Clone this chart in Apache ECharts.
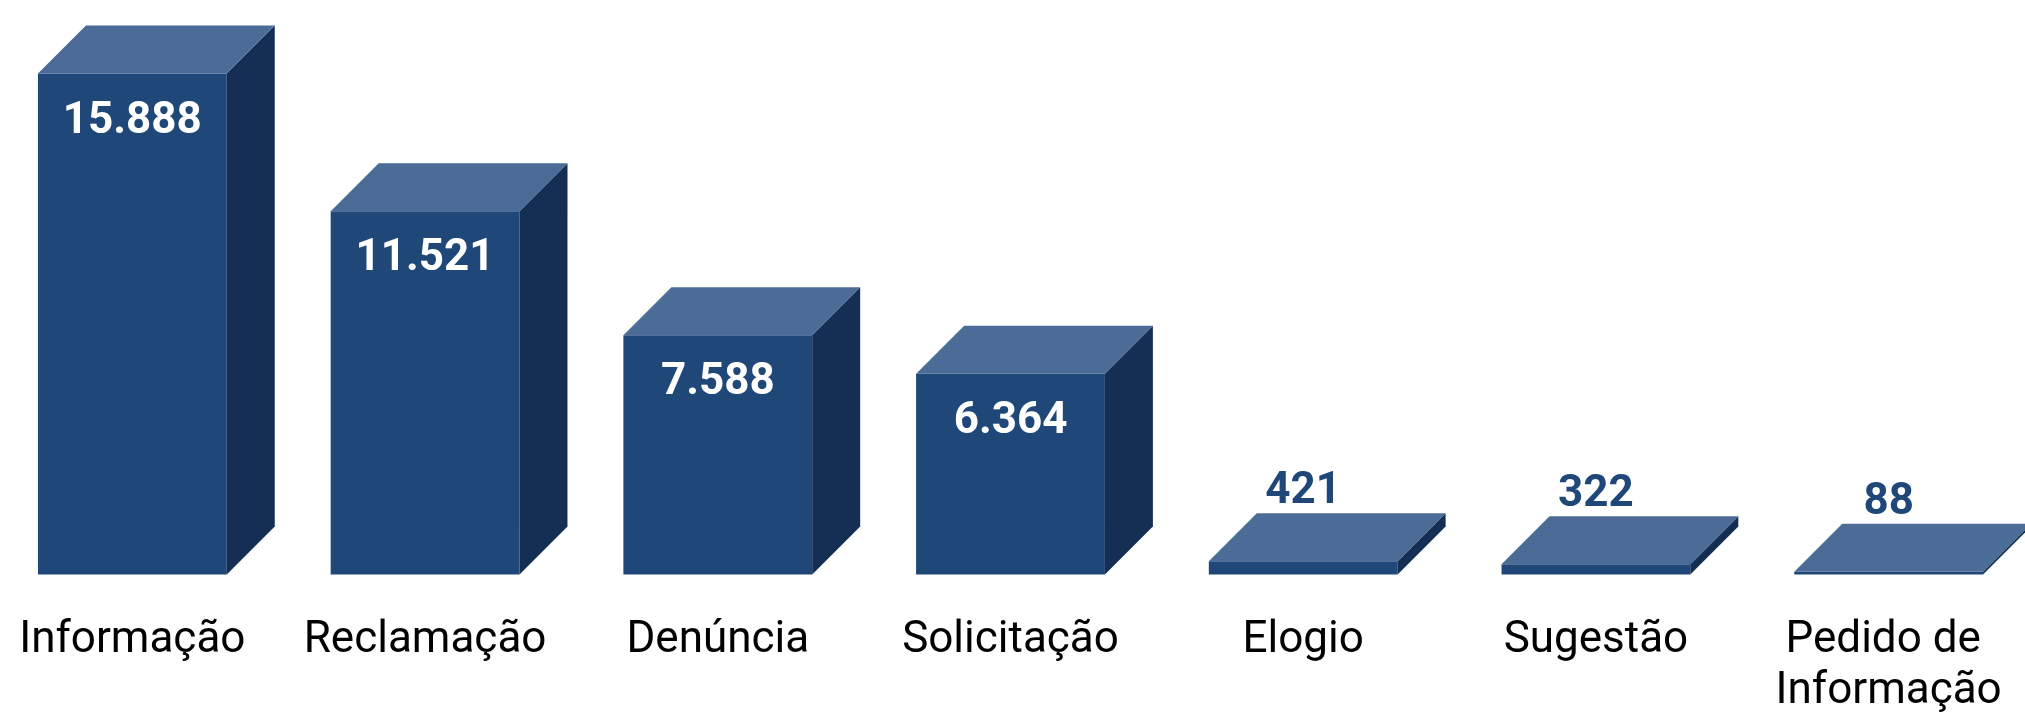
<!DOCTYPE html>
<html>
<head>
<meta charset="utf-8">
<script src="https://cdn.jsdelivr.net/npm/echarts@6/dist/echarts.min.js"></script>
<style>
  html, body { margin: 0; padding: 0; background: #fff; }
  #chart { width: 2025px; height: 717px; }
</style>
</head>
<body>
<div id="chart"></div>
<script>
const categories = ['Informação', 'Reclamação', 'Denúncia', 'Solicitação', 'Elogio', 'Sugestão', 'Pedido de Informação'];
const values = [15888, 11521, 7588, 6364, 421, 322, 88];

const FRONT = '#1f4778';
const SIDE = '#152e53';
const TOP = '#4b6c96';
const DX = 48, DY = 48;

function fmt(v) {
  return String(v).replace(/\B(?=(\d{3})+(?!\d))/g, '.');
}

const chart = echarts.init(document.getElementById('chart'));

function renderBox(params, api) {
  const i = api.value(0);
  const v = api.value(1);
  const top = api.coord([i, v]);
  const base = api.coord([i, 0]);
  const band = api.size([1, 0])[0];
  const w = band * 0.645;
  const x0 = top[0] - w / 2;
  const x1 = x0 + w;
  const yt = top[1];
  const yb = base[1];
  const inside = (yb - yt) > 100;

  return {
    type: 'group',
    children: [
      {
        type: 'rect',
        shape: { x: x0, y: yt, width: w, height: yb - yt },
        style: { fill: FRONT }
      },
      {
        type: 'polygon',
        shape: { points: [[x1, yt], [x1 + DX, yt - DY], [x1 + DX, yb - DY], [x1, yb]] },
        style: { fill: SIDE }
      },
      {
        type: 'polygon',
        shape: { points: [[x0, yt], [x0 + DX, yt - DY], [x1 + DX, yt - DY], [x1, yt]] },
        style: { fill: TOP }
      },
      {
        type: 'text',
        style: {
          text: fmt(v),
          x: top[0],
          y: inside ? yt + 48 : yt - DY - 21,
          fill: inside ? '#ffffff' : FRONT,
          fontSize: 44,
          fontWeight: 'bold',
          fontFamily: 'Roboto',
          align: 'center',
          verticalAlign: 'middle'
        }
      }
    ]
  };
}

const option = {
  animation: false,
  grid: {
    left: -14,
    right: -10,
    top: 70,
    bottom: 142.5,
    outerBoundsMode: 'none'
  },
  xAxis: {
    type: 'category',
    data: categories,
    axisLine: { show: false },
    axisTick: { show: false },
    axisLabel: {
      interval: 0,
      margin: 41,
      color: '#000',
      fontSize: 44,
      fontFamily: 'Roboto',
      lineHeight: 51,
      width: 300,
      overflow: 'break'
    }
  },
  yAxis: {
    type: 'value',
    min: 0,
    max: 16000,
    show: false,
    splitLine: { show: false }
  },
  series: [{
    type: 'custom',
    renderItem: renderBox,
    data: values.map((v, i) => [i, v])
  }]
};

chart.setOption(option);
</script>
</body>
</html>
